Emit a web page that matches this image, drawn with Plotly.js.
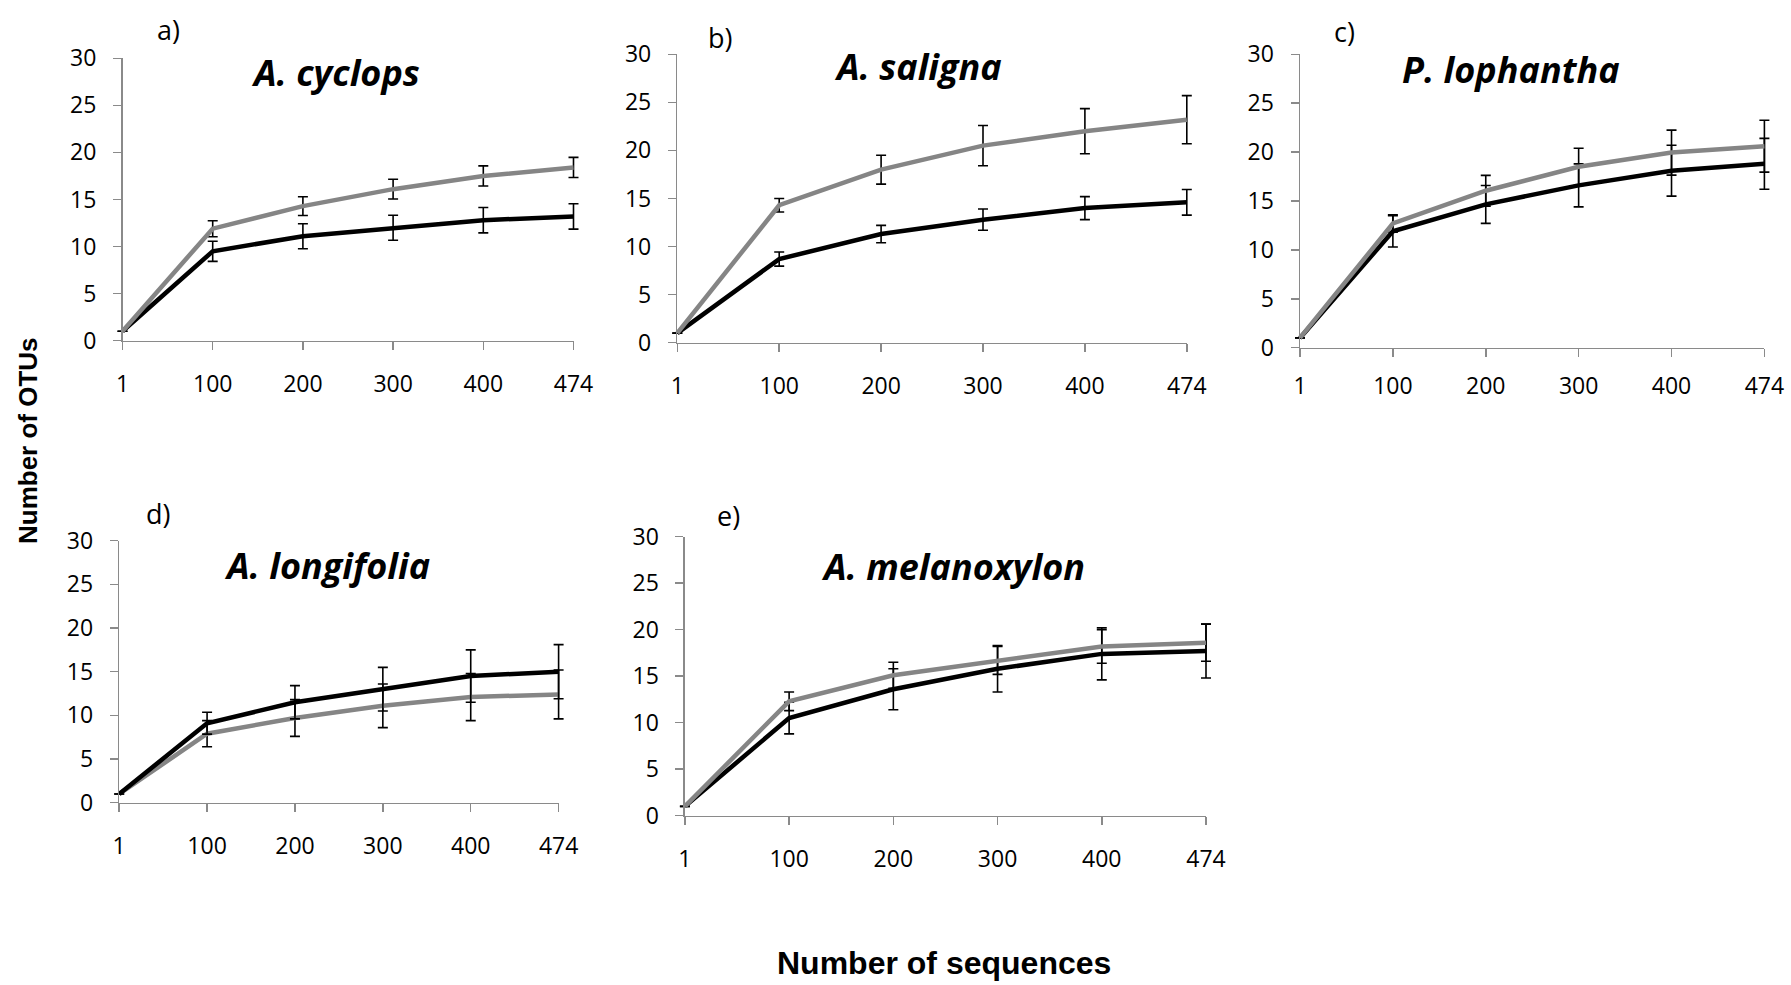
<!DOCTYPE html>
<html>
<head>
<meta charset="utf-8">
<script src="https://cdn.plot.ly/plotly-3.0.1.min.js"></script>
<style>
html,body{margin:0;padding:0;background:#fff;}
#chart{width:1791px;height:985px;}
</style>
</head>
<body>
<div id="chart"></div>
<script>
// ---- data ----
const categories = ['1', '100', '200', '300', '400', '474'];
const panelLabels = ['a)', 'b)', 'c)', 'd)', 'e)'];
const speciesNames = ['A. cyclops', 'A. saligna', 'P. lophantha', 'A. longifolia', 'A. melanoxylon'];

const cyclopsBlack    = [1, 9.5, 11.1, 12.0, 12.8, 13.2];
const cyclopsBlackErr = [0, 1.07, 1.33, 1.33, 1.35, 1.35];
const cyclopsGray     = [1, 11.9, 14.3, 16.1, 17.5, 18.4];
const cyclopsGrayErr  = [0, 0.85, 1.0, 1.05, 1.07, 1.07];

const salignaBlack    = [1, 8.7, 11.3, 12.8, 14.0, 14.6];
const salignaBlackErr = [0, 0.73, 0.9, 1.1, 1.2, 1.33];
const salignaGray     = [1, 14.3, 18.0, 20.5, 22.0, 23.2];
const salignaGrayErr  = [0, 0.7, 1.5, 2.1, 2.35, 2.5];

const lophanthaBlack    = [1, 11.9, 14.65, 16.6, 18.1, 18.8];
const lophanthaBlackErr = [0, 1.6, 1.94, 2.2, 2.6, 2.6];
const lophanthaGray     = [1, 12.7, 16.05, 18.5, 19.95, 20.6];
const lophanthaGrayErr  = [0, 0.9, 1.57, 1.9, 2.3, 2.65];

const longifoliaBlack    = [1, 9.1, 11.5, 13.0, 14.5, 15.0];
const longifoliaBlackErr = [0, 1.25, 1.9, 2.5, 3.0, 3.1];
const longifoliaGray     = [1, 7.9, 9.7, 11.1, 12.1, 12.4];
const longifoliaGrayErr  = [0, 1.5, 2.1, 2.5, 2.7, 2.8];

const melanoxylonBlack    = [1, 10.5, 13.6, 15.8, 17.4, 17.7];
const melanoxylonBlackErr = [0, 1.7, 2.2, 2.5, 2.8, 2.9];
const melanoxylonGray     = [1, 12.3, 15.1, 16.7, 18.2, 18.6];
const melanoxylonGrayErr  = [0, 1.0, 1.4, 1.5, 1.8, 2.0];

const yTickVals = [0, 5, 10, 15, 20, 25, 30];

// ---- layout helpers ----
const W = 1791, H = 985;
const fx = px => px / W;
const fy = py => 1 - py / H;

// plot boxes in px: [left, right, top, bottom]
const boxes = [
  [122.5, 573.5, 58.3, 340.7],
  [677.3, 1186.8, 54.3, 342.7],
  [1300.0, 1764.4, 54.3, 347.7],
  [119.2, 558.6, 540.7, 802.7],
  [684.9, 1206.0, 536.7, 815.7]
];
const xLabelStandoff = [14, 14, 9, 14, 14];
const labelPos = [[168, 30], [720, 38], [1344, 31], [158, 513], [728, 515]];
const titlePos = [[335, 73], [918, 66], [1511, 70], [327, 565], [953, 566]];

const series = [
  {black: cyclopsBlack, blackErr: cyclopsBlackErr, gray: cyclopsGray, grayErr: cyclopsGrayErr, grayOnTop: true},
  {black: salignaBlack, blackErr: salignaBlackErr, gray: salignaGray, grayErr: salignaGrayErr, grayOnTop: true},
  {black: lophanthaBlack, blackErr: lophanthaBlackErr, gray: lophanthaGray, grayErr: lophanthaGrayErr, grayOnTop: true},
  {black: longifoliaBlack, blackErr: longifoliaBlackErr, gray: longifoliaGray, grayErr: longifoliaGrayErr, grayOnTop: false},
  {black: melanoxylonBlack, blackErr: melanoxylonBlackErr, gray: melanoxylonGray, grayErr: melanoxylonGrayErr, grayOnTop: true}
];

const GRAY = '#858585';
const AXIS = '#8a8a8a';
const tickFont = {family: 'Open Sans, sans-serif', size: 23, color: '#000'};

const traces = [];
const layout = {
  width: W, height: H,
  margin: {l: 0, r: 0, t: 0, b: 0},
  paper_bgcolor: '#fff', plot_bgcolor: '#fff',
  showlegend: false,
  annotations: []
};

function mk(vals, errs, color, xa, ya) {
  return {
    x: categories, y: vals, type: 'scatter', mode: 'lines',
    line: {color: color, width: 4.5},
    error_y: {type: 'data', array: errs, visible: true, color: '#000', thickness: 1.6, width: 5},
    xaxis: xa, yaxis: ya, cliponaxis: false, hoverinfo: 'skip'
  };
}

boxes.forEach((b, i) => {
  const n = i + 1;
  const xa = 'x' + (n === 1 ? '' : n), ya = 'y' + (n === 1 ? '' : n);
  const s = series[i];
  const blk = mk(s.black, s.blackErr, '#000', xa, ya);
  const gry = mk(s.gray, s.grayErr, GRAY, xa, ya);
  if (s.grayOnTop) { traces.push(blk, gry); } else { traces.push(gry, blk); }

  layout['xaxis' + (n === 1 ? '' : n)] = {
    domain: [fx(b[0]), fx(b[1])],
    anchor: ya,
    type: 'category',
    categoryorder: 'array', categoryarray: categories,
    range: [0, categories.length - 1],
    showgrid: false, zeroline: false,
    showline: true, linecolor: AXIS, linewidth: 1.5,
    ticks: 'outside', ticklen: 8, tickwidth: 1.5, tickcolor: AXIS,
    tickfont: tickFont, ticklabelstandoff: xLabelStandoff[i],
    fixedrange: true
  };
  layout['yaxis' + (n === 1 ? '' : n)] = {
    domain: [fy(b[3]), fy(b[2])],
    anchor: xa,
    range: [0, 30],
    tickvals: yTickVals,
    showgrid: false, zeroline: false,
    showline: true, linecolor: AXIS, linewidth: 1.5,
    ticks: 'outside', ticklen: 8, tickwidth: 1.5, tickcolor: AXIS,
    tickfont: tickFont, ticklabelstandoff: 12,
    fixedrange: true
  };

  layout.annotations.push({
    text: panelLabels[i], xref: 'paper', yref: 'paper',
    x: fx(labelPos[i][0]), y: fy(labelPos[i][1]), xanchor: 'center', yanchor: 'middle',
    showarrow: false, font: {family: 'Open Sans, sans-serif', size: 27, color: '#000'}
  });
  layout.annotations.push({
    text: '<b><i>' + speciesNames[i] + '</i></b>', xref: 'paper', yref: 'paper',
    x: fx(titlePos[i][0]), y: fy(titlePos[i][1]), xanchor: 'center', yanchor: 'middle',
    showarrow: false, font: {family: 'Open Sans, sans-serif', size: 36, color: '#000'}
  });
});

layout.annotations.push({
  text: '<b>Number of OTUs</b>', xref: 'paper', yref: 'paper',
  x: fx(28), y: fy(441), xanchor: 'center', yanchor: 'middle', textangle: -90,
  showarrow: false, font: {family: 'Arial, "Liberation Sans", sans-serif', size: 26, color: '#000'}
});
layout.annotations.push({
  text: '<b>Number of sequences</b>', xref: 'paper', yref: 'paper',
  x: fx(944), y: fy(963), xanchor: 'center', yanchor: 'middle',
  showarrow: false, font: {family: 'Arial, "Liberation Sans", sans-serif', size: 32, color: '#000'}
});

Plotly.newPlot('chart', traces, layout, {staticPlot: true, displayModeBar: false}).then(() => {
  // let error-bar caps at the plot edges show fully (as in the reference)
  document.querySelectorAll('#chart .cartesianlayer [clip-path]').forEach(el => el.removeAttribute('clip-path'));
});
</script>
</body>
</html>
